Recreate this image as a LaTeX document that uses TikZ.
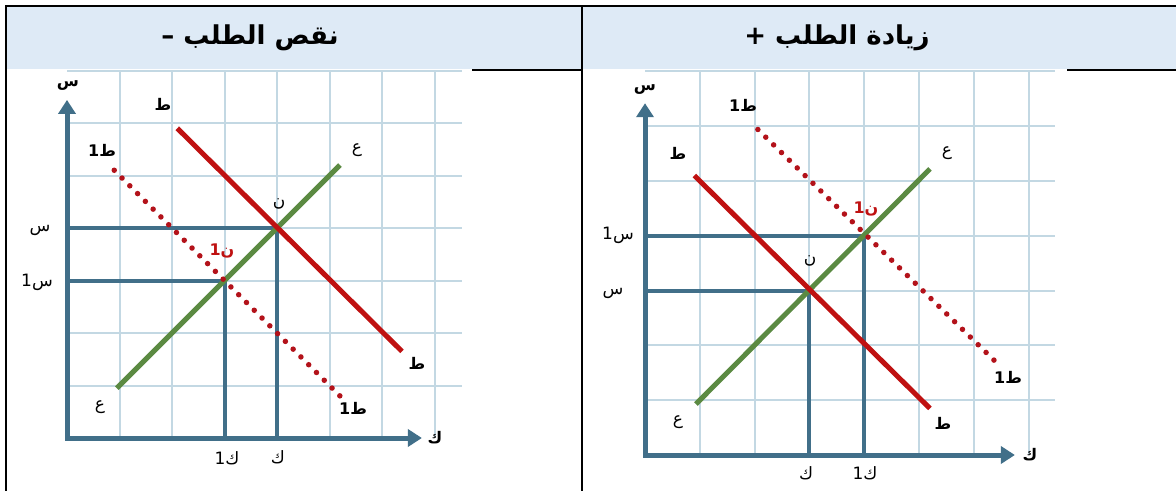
\documentclass[tikz,border=0pt]{standalone}
\usepackage{fontspec}
\usetikzlibrary{arrows.meta}
\TeXXeTstate=1
\newfontfamily\arabicfont[Script=Arabic]{DejaVu Sans}
\definecolor{hdrbg}{HTML}{DEEAF6}
\definecolor{gridc}{HTML}{C3D8E3}
\definecolor{axisc}{HTML}{416F89}
\definecolor{redc}{HTML}{BF1111}
\definecolor{greenc}{HTML}{5B8A42}
\definecolor{dotc}{HTML}{B3121A}
\tikzset{
  frame/.style={black, line width=2pt},
  gridline/.style={gridc, line width=2pt},
  axisline/.style={axisc, line width=5pt, {Triangle[length=14pt,width=17pt]}-{Triangle[length=14pt,width=17pt]}},
  guide/.style={axisc, line width=4pt},
  demand/.style={redc, line width=5pt},
  supply/.style={greenc, line width=5pt},
  newdemand/.style={dotc, line width=5.5pt, line cap=round, dash pattern=on 0pt off 11pt},
  lbl/.style={font=\arabicfont\fontsize{16}{18}\selectfont\bfseries, inner sep=0pt},
  lblr/.style={lbl, text=redc},
  rlbl/.style={font=\arabicfont\fontsize{17}{19}\selectfont, inner sep=0pt},
  hdr/.style={font=\arabicfont\fontsize{26}{30}\selectfont\bfseries, inner sep=0pt}
}
\begin{document}
\begin{tikzpicture}[x=1pt,y=-1pt]
\useasboundingbox (0,0) rectangle (1176,491);
\fill[white] (0,0) rectangle (1176,491);
% table
\fill[hdrbg] (6,6) rectangle (1176,69);
\coordinate (t1) at (5,5.5);
\coordinate (t2) at (1176,5.5);
\coordinate (l1) at (6,5);
\coordinate (l2) at (6,491);
\coordinate (d1) at (582,5);
\coordinate (d2) at (582,491);
\coordinate (b1) at (472,69.5);
\coordinate (b2) at (582,69.5);
\coordinate (b3) at (1067,69.5);
\coordinate (b4) at (1176,69.5);
\draw[frame] (t1) -- (t2);
\draw[frame] (l1) -- (l2);
\draw[frame] (d1) -- (d2);
\draw[frame] (b1) -- (b2);
\draw[frame] (b3) -- (b4);
\node[hdr] (hL) at (250,38) {\beginR نقص الطلب –\endR};
\node[hdr] (hR) at (837,38) {\beginR زيادة الطلب +\endR};

% left chart
\begin{scope}[shift={(67pt,-438pt)}, x=52.5pt, y=52.5pt]
  \foreach \j in {1,...,7} \draw[gridline] (0,\j) -- (7.52,\j);
  \foreach \i in {1,...,7} \draw[gridline] (\i,0) -- (\i,7);
  \coordinate (Lo) at (0,0);
  \coordinate (Lyt) at (0,6.44);
  \coordinate (Lxt) at (6.76,0);
  \coordinate (Ls) at (0,4);
  \coordinate (Ln) at (4,4);
  \coordinate (Lk) at (4,0);
  \coordinate (Ls1) at (0,3);
  \coordinate (Ln1) at (3,3);
  \coordinate (Lk1) at (3,0);
  \coordinate (LDa) at (2.1,5.9);
  \coordinate (LDb) at (6.38,1.65);
  \coordinate (LSa) at (0.95,0.95);
  \coordinate (LSb) at (5.2,5.2);
  \coordinate (LD1a) at (0.9,5.1);
  \coordinate (LD1b) at (5.2,0.8);
  \draw[guide] (Ls) -- (Ln) -- (Lk);
  \draw[guide] (Ls1) -- (Ln1) -- (Lk1);
  \draw[axisline] (Lyt) -- (Lo) -- (Lxt);
  \draw[supply] (LSa) -- (LSb);
  \draw[demand] (LDa) -- (LDb);
  \draw[newdemand] (LD1a) -- (LD1b);
\end{scope}
\node[lbl] (Lys) at (68,86) {\beginR س\endR};
\node[lbl] (LtD) at (163,104) {\beginR ط\endR};
\node[lbl] (LtD1) at (102,150) {\beginR ط1\endR};
\node[rlbl] (Lnl) at (279,204) {\beginR ن\endR};
\node[lblr] (Ln1l) at (222,251) {\beginR ن1\endR};
\node[rlbl] (Lsl) at (40,230) {\beginR س\endR};
\node[rlbl] (Ls1l) at (37,282) {\beginR س1\endR};
\node[rlbl] (LSl1) at (100,407) {\beginR ع\endR};
\node[rlbl] (LSl2) at (357,150) {\beginR ع\endR};
\node[lbl] (LDl2) at (417,363) {\beginR ط\endR};
\node[lbl] (LD1l2) at (353,408) {\beginR ط1\endR};
\node[rlbl] (Lk1l) at (227,458) {\beginR ك1\endR};
\node[rlbl] (Lkl) at (278,457) {\beginR ك\endR};
\node[lbl] (Lxk) at (435,438) {\beginR ك\endR};

% right chart
\begin{scope}[shift={(645pt,-455pt)}, x=54.8pt, y=54.8pt]
  \foreach \j in {1,...,7} \draw[gridline] (0,\j) -- (7.48,\j);
  \foreach \i in {1,...,7} \draw[gridline] (\i,0) -- (\i,7);
  \coordinate (Ro) at (0,0);
  \coordinate (Ryt) at (0,6.42);
  \coordinate (Rxt) at (6.75,0);
  \coordinate (Rs) at (0,3);
  \coordinate (Rn) at (3,3);
  \coordinate (Rk) at (3,0);
  \coordinate (Rs1) at (0,4);
  \coordinate (Rn1) at (4,4);
  \coordinate (Rk1) at (4,0);
  \coordinate (RDa) at (0.9,5.1);
  \coordinate (RDb) at (5.2,0.85);
  \coordinate (RSa) at (0.93,0.93);
  \coordinate (RSb) at (5.2,5.22);
  \coordinate (RD1a) at (2.06,5.94);
  \coordinate (RD1b) at (6.4,1.7);
  \draw[guide] (Rs) -- (Rn) -- (Rk);
  \draw[guide] (Rs1) -- (Rn1) -- (Rk1);
  \draw[axisline] (Ryt) -- (Ro) -- (Rxt);
  \draw[supply] (RSa) -- (RSb);
  \draw[demand] (RDa) -- (RDb);
  \draw[newdemand] (RD1a) -- (RD1b);
\end{scope}
\node[lbl] (Rys) at (645,90) {\beginR س\endR};
\node[lbl] (RtD1) at (743,105) {\beginR ط1\endR};
\node[lbl] (RtD) at (678,153) {\beginR ط\endR};
\node[lblr] (Rn1l) at (866,209) {\beginR ن1\endR};
\node[rlbl] (Rs1l) at (618,235) {\beginR س1\endR};
\node[rlbl] (Rnl) at (810,261) {\beginR ن\endR};
\node[rlbl] (Rsl) at (613,293) {\beginR س\endR};
\node[rlbl] (RSl1) at (678,422) {\beginR ع\endR};
\node[rlbl] (RSl2) at (947,153) {\beginR ع\endR};
\node[lbl] (RD1l2) at (1008,377) {\beginR ط1\endR};
\node[lbl] (RDl2) at (943,423) {\beginR ط\endR};
\node[rlbl] (Rkl) at (806,473) {\beginR ك\endR};
\node[rlbl] (Rk1l) at (865,473) {\beginR ك1\endR};
\node[lbl] (Rxk) at (1030,455) {\beginR ك\endR};
\end{tikzpicture}
\end{document}
